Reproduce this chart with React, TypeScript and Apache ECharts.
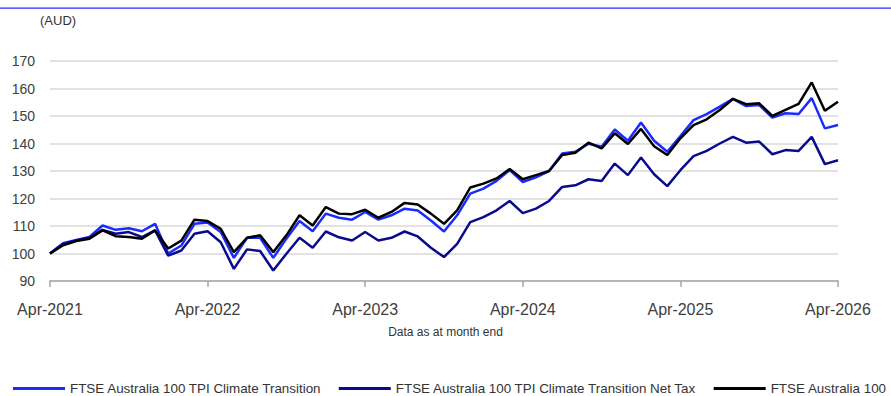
import React, { useEffect, useRef } from "react";
import * as echarts from "echarts";

const MONTHS = ["Jan", "Feb", "Mar", "Apr", "May", "Jun", "Jul", "Aug", "Sep", "Oct", "Nov", "Dec"];
const categories: string[] = [];
for (let i = 0; i <= 60; i++) {
  const m = (3 + i) % 12;
  const y = 2021 + Math.floor((3 + i) / 12);
  categories.push(`${MONTHS[m]}-${y}`);
}

const seriesNames = [
  "FTSE Australia 100 TPI Climate Transition",
  "FTSE Australia 100 TPI Climate Transition Net Tax",
  "FTSE Australia 100",
];

const climateTransition = [
  100, 103.7, 104.9, 106, 110.2, 108.6, 109.2, 108.1, 110.8, 100, 102.9, 110.8,
  111.3, 107.8, 98.4, 105.7, 105.7, 98.4, 105.4, 111.8, 108.1, 114.5, 113, 112.3,
  115.1, 112.3, 113.9, 116.3, 115.6, 112, 108, 113.9, 121.8, 123.6, 126.4, 130.3,
  126, 127.7, 130, 136.4, 137, 139.9, 138.8, 145.1, 141, 147.6, 141, 137,
  142.7, 148.5, 150.7, 153.4, 156.2, 153.6, 154, 149.4, 151, 150.7, 156.5, 145.5, 146.7,
];

const climateTransitionNetTax = [
  100, 103.5, 104.7, 105.7, 108.6, 107.2, 107.8, 106, 108.4, 99.2, 101.1, 107.2,
  108.1, 104.1, 94.4, 101.5, 100.9, 93.8, 99.9, 105.7, 102.1, 108, 105.9, 104.7,
  107.8, 104.7, 105.7, 108, 106.2, 102.1, 98.7, 103.5, 111.4, 113.2, 115.7, 119.1,
  114.7, 116.3, 119.1, 124.2, 124.8, 127, 126.4, 132.7, 128.5, 134.9, 128.8, 124.5,
  130.3, 135.4, 137.3, 140, 142.4, 140.3, 140.7, 136.1, 137.6, 137.3, 142.4, 132.5, 133.9,
];

const australia100 = [
  100, 103, 104.5, 105.4, 108.4, 106.3, 106, 105.4, 108.4, 101.8, 104.7, 112.3,
  111.8, 109, 100.5, 105.7, 106.6, 100.5, 106.6, 113.9, 110.2, 116.9, 114.5, 114.3,
  115.9, 113, 115.1, 118.4, 117.8, 114.5, 110.8, 115.7, 124, 125.4, 127.3, 130.7,
  127, 128.5, 130, 135.8, 136.6, 140.3, 138.2, 143.7, 139.8, 145.3, 139, 135.8,
  141.9, 146.7, 148.8, 152.2, 156.2, 154.3, 154.6, 150, 152.2, 154.4, 162.2, 151.9, 155.2,
];

const seriesColors = ["#1a2bff", "#0a0a8f", "#000000"];
const FONT = "'Liberation Sans', Arial, sans-serif";

export default function App() {
  const ref = useRef<HTMLDivElement>(null);
  useEffect(() => {
    document.body.style.margin = "0";
    if (!ref.current) return;
    const chart = echarts.init(ref.current, null, { renderer: "svg" });
    const dataSets = [climateTransition, climateTransitionNetTax, australia100];
    chart.setOption({
      animation: false,
      backgroundColor: "#ffffff",
      textStyle: { fontFamily: FONT },
      grid: { left: 50, right: 53, top: 61, bottom: 115, containLabel: false },
      graphic: [
        {
          type: "rect",
          shape: { x: 0, y: 7.5, width: 891, height: 1.2 },
          style: { fill: "#1a2bff" },
        },
        {
          type: "text",
          left: 40,
          top: 14,
          style: { text: "(AUD)", fontSize: 13, fill: "#333333", fontFamily: FONT },
        },
        {
          type: "text",
          left: "center",
          top: 326,
          style: { text: "Data as at month end", fontSize: 12, fill: "#333333", fontFamily: FONT },
        },
      ],
      legend: {
        left: 13,
        top: 382,
        width: 1100,
        itemGap: 17,
        itemWidth: 52,
        itemHeight: 3,
        icon: "rect",
        padding: 0,
        textStyle: { fontSize: 13.4, color: "#333333", fontFamily: FONT, padding: [0, 0, 0, 0] },
        data: seriesNames,
      },
      xAxis: {
        type: "category",
        data: categories,
        boundaryGap: false,
        axisLine: { lineStyle: { color: "#a6a6a6", width: 1.5 } },
        axisTick: { show: true, interval: 11, length: 6, lineStyle: { color: "#a6a6a6", width: 1.5 } },
        axisLabel: { interval: 11, fontSize: 16, color: "#404040", margin: 20, fontFamily: FONT },
        splitLine: { show: false },
      },
      yAxis: {
        type: "value",
        min: 90,
        max: 170,
        interval: 10,
        axisLine: { show: false },
        axisTick: { show: false },
        axisLabel: { fontSize: 14, color: "#404040", margin: 15, fontFamily: FONT },
        splitLine: { lineStyle: { color: "#d9d9d9", width: 1.5 } },
      },
      series: seriesNames.map((name, i) => ({
        name,
        type: "line",
        data: dataSets[i],
        symbol: "none",
        lineStyle: { color: seriesColors[i], width: 2.5 },
        itemStyle: { color: seriesColors[i] },
        z: 2 + i,
      })),
    });
    return () => chart.dispose();
  }, []);
  return <div ref={ref} style={{ width: 891, height: 396 }} />;
}
